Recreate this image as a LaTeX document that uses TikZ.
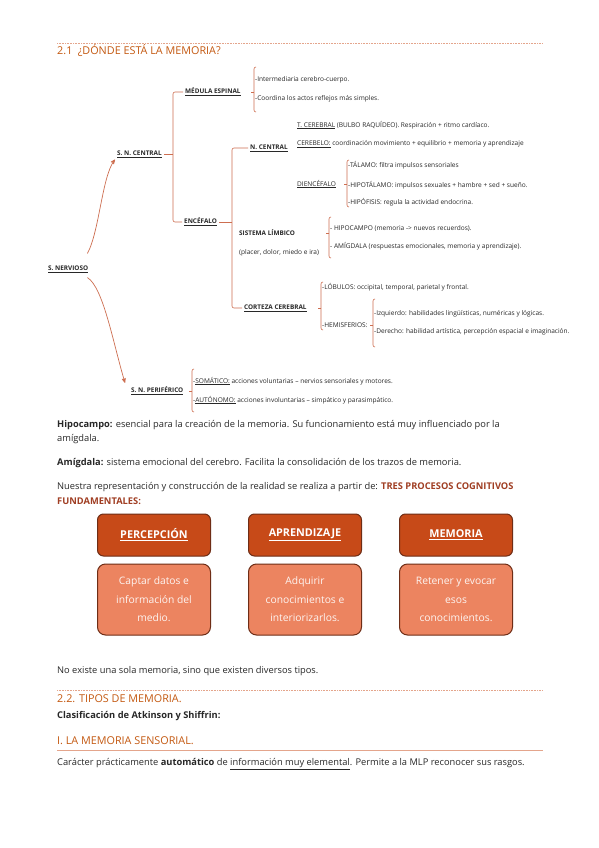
\documentclass[tikz,border=0pt]{standalone}
\usepackage{fontspec}
\setmainfont{Open Sans}
\usetikzlibrary{arrows, positioning, calc}
\definecolor{hdorange}{RGB}{196,89,17}
\definecolor{treeline}{RGB}{205,110,80}
\definecolor{dotline}{RGB}{228,165,140}
\definecolor{boxdark}{RGB}{199,74,24}
\definecolor{boxlight}{RGB}{236,132,96}
\definecolor{boxedge}{RGB}{110,45,22}
\definecolor{procol}{RGB}{160,62,35}
\definecolor{bodytxt}{RGB}{40,40,40}
\newcommand\lbr[4]{\draw[br] ([xshift=2pt,yshift=#4]#1.west) -- ([yshift=#4]#1.west) -- ([yshift=-#4]#2.west) -- ([xshift=2pt,yshift=-#4]#2.west);
  \draw[br] (#1.west |- #3.east) -- ++(-3pt,0);}

\begin{document}
\begin{tikzpicture}[x=1pt, y=-1pt, node distance=8pt,
  br/.style={draw=treeline, line width=0.6pt, rounded corners=2pt},
  arr/.style={->, >=stealth', draw=treeline, line width=0.7pt},
  tiny/.style={anchor=west, inner sep=1pt, text=bodytxt, font=\fontsize{6.55}{7}\selectfont},
  lbl/.style={tiny, inner sep=2pt, font=\fontsize{6.4}{7}\selectfont\bfseries},
  body/.style={anchor=west, inner sep=0pt, text=bodytxt, font=\fontsize{9.3}{11}\selectfont},
  hd/.style={body, text=hdorange, font=\fontsize{10.8}{12}\selectfont},
  topbox/.style={rectangle, rounded corners=6pt, draw=boxedge, fill=boxdark, line width=1pt,
    minimum width=113pt, minimum height=42pt, text=white, font=\fontsize{10.8}{13}\selectfont\bfseries},
  lowbox/.style={rectangle, rounded corners=8pt, draw=boxedge, fill=boxlight, line width=1pt,
    minimum width=113pt, minimum height=71pt, align=center, text=white!92!boxlight,
    font=\fontsize{10.3}{18.5}\selectfont}]
  \fill[white] (0,0) rectangle (599,848);
  \useasboundingbox (0,0) rectangle (599,848);
  \draw[dotline, line width=0.8pt, dash pattern=on 1pt off 0.6pt] (57,43) -- (543,43);
  \node[hd] (h21) at (57,51) {2.1\enspace ¿DÓNDE ESTÁ LA MEMORIA?};

  \node[lbl] (sn) at (46,269) {\underline{S. NERVIOSO}};
  \node[lbl] (snc) at (115,154) {\underline{S. N. CENTRAL}};
  \node[lbl] (med) at (183,92) {\underline{MÉDULA ESPINAL}};
  \node[lbl] (enc) at (182,222) {\underline{ENCÉFALO}};
  \node[lbl] (nc) at (248,148) {\underline{N. CENTRAL}};
  \node[lbl] (sl) at (237,233) {SISTEMA LÍMBICO};
  \node[tiny, inner sep=2pt] (sl2) at (237,253) {(placer, dolor, miedo e ira)};
  \node[lbl] (cc) at (242,308) {\underline{CORTEZA CEREBRAL}};
  \node[lbl] (snp) at (129,391) {\underline{S. N. PERIFÉRICO}};

  \node[tiny] (m1) at (254,80) {-Intermediaria cerebro-cuerpo.};
  \node[tiny] (m2) at (254,99) {-Coordina los actos reflejos más simples.};
  \node[tiny] (tc) at (296,125) {\underline{T. CEREBRAL} (BULBO RAQUÍDEO). Respiración + ritmo cardíaco.};
  \node[tiny] (ceb) at (296,144) {\underline{CEREBELO:} coordinación movimiento + equilibrio + memoria y aprendizaje};
  \node[tiny] (die) at (296,184) {\underline{DIENCÉFALO}};
  \node[tiny] (ta) at (347,165) {-TÁLAMO: filtra impulsos sensoriales};
  \node[tiny] (hip) at (347,185) {-HIPOTÁLAMO: impulsos sexuales + hambre + sed + sueño.};
  \node[tiny] (hf) at (347,202) {-HIPÓFISIS: regula la actividad endocrina.};
  \node[tiny] (hc) at (329,229) {- HIPOCAMPO (memoria -> nuevos recuerdos).};
  \node[tiny] (am) at (329,246) {- AMÍGDALA (respuestas emocionales, memoria y aprendizaje).};
  \node[tiny] (lo) at (321,287) {-LÓBULOS: occipital, temporal, parietal y frontal.};
  \node[tiny] (he) at (321,325) {-HEMISFERIOS:};
  \node[tiny] (iz) at (373,314) {-Izquierdo: habilidades lingüísticas, numéricas y lógicas.};
  \node[tiny] (de) at (373,332) {-Derecho: habilidad artística, percepción espacial e imaginación.};
  \node[tiny] (so) at (192,381) {-\underline{SOMÁTICO:} acciones voluntarias – nervios sensoriales y motores.};
  \node[tiny] (au) at (192,400) {-\underline{AUTÓNOMO:} acciones involuntarias – simpático y parasimpático.};

  \coordinate (k1) at (173,154);
  \draw[br] (med.west) -| (k1) |- (enc.west);
  \draw[br] (snc.east) -- (snc.east -| k1);
  \coordinate (k2) at (232,222);
  \draw[br] (nc.west) -| (k2) |- (cc.west);
  \draw[br] (enc.east) -- (enc.east -| k2);
  \lbr{m1}{m2}{med}{13pt}
  \lbr{ta}{hf}{die}{5pt}
  \lbr{hc}{am}{sl}{12pt}
  \lbr{lo}{he}{cc}{5pt}
  \lbr{iz}{de}{he}{15pt}
  \lbr{so}{au}{snp}{12pt}
  \draw[arr] ([xshift=-3pt,yshift=10pt]sn.north east) .. controls +(12,-22) and +(-13,17) .. (snc.south west);
  \draw[arr] ([xshift=-3pt,yshift=-3pt]sn.south east) .. controls +(16,10) and +(-12,-40) .. ([xshift=-4pt,yshift=2pt]snp.north west);

  \node[body] (t1) at (57,425) {\textbf{Hipocampo:} esencial para la creación de la memoria. Su funcionamiento está muy influenciado por la};
  \node[body] (t2) at (57,439) {amígdala.};
  \node[body] (t3) at (57,463) {\textbf{Amígdala:} sistema emocional del cerebro. Facilita la consolidación de los trazos de memoria.};
  \node[body] (t4) at (57,487) {Nuestra representación y construcción de la realidad se realiza a partir de: \textcolor{procol}{\textbf{TRES PROCESOS COGNITIVOS}}};
  \node[body] (t5) at (57,501) {\textcolor{procol}{\textbf{FUNDAMENTALES:}}};

  \node[topbox] (per) at (154,535) {\underline{PERCEPCIÓN}};
  \node[topbox, right=37pt of per] (apr) {\underline{APRENDIZAJE}};
  \node[topbox, right=37pt of apr] (mem) {\underline{MEMORIA}};
  \node[lowbox, below=7pt of per] (per2) {Captar datos e\\información del\\medio.};
  \node[lowbox, below=7pt of apr] (apr2) {Adquirir\\conocimientos e\\interiorizarlos.};
  \node[lowbox, below=7pt of mem] (mem2) {Retener y evocar\\esos\\conocimientos.};

  \node[body] (t6) at (57,671) {No existe una sola memoria, sino que existen diversos tipos.};
  \draw[dotline, line width=0.8pt, dash pattern=on 1pt off 0.6pt] (57,690) -- (543,690);
  \node[hd] (h22) at (57,699) {2.2. TIPOS DE MEMORIA.};
  \node[body] (t7) at (57,716) {\textbf{Clasificación de Atkinson y Shiffrin:}};
  \node[hd] (h1) at (57,741) {I. LA MEMORIA SENSORIAL.};
  \draw[dotline, line width=0.9pt] (57,750) -- (543,750);
  \node[body] (t8) at (57,764) {Carácter prácticamente \textbf{automático} de \underline{información muy elemental}. Permite a la MLP reconocer sus rasgos.};
\end{tikzpicture}
\end{document}
